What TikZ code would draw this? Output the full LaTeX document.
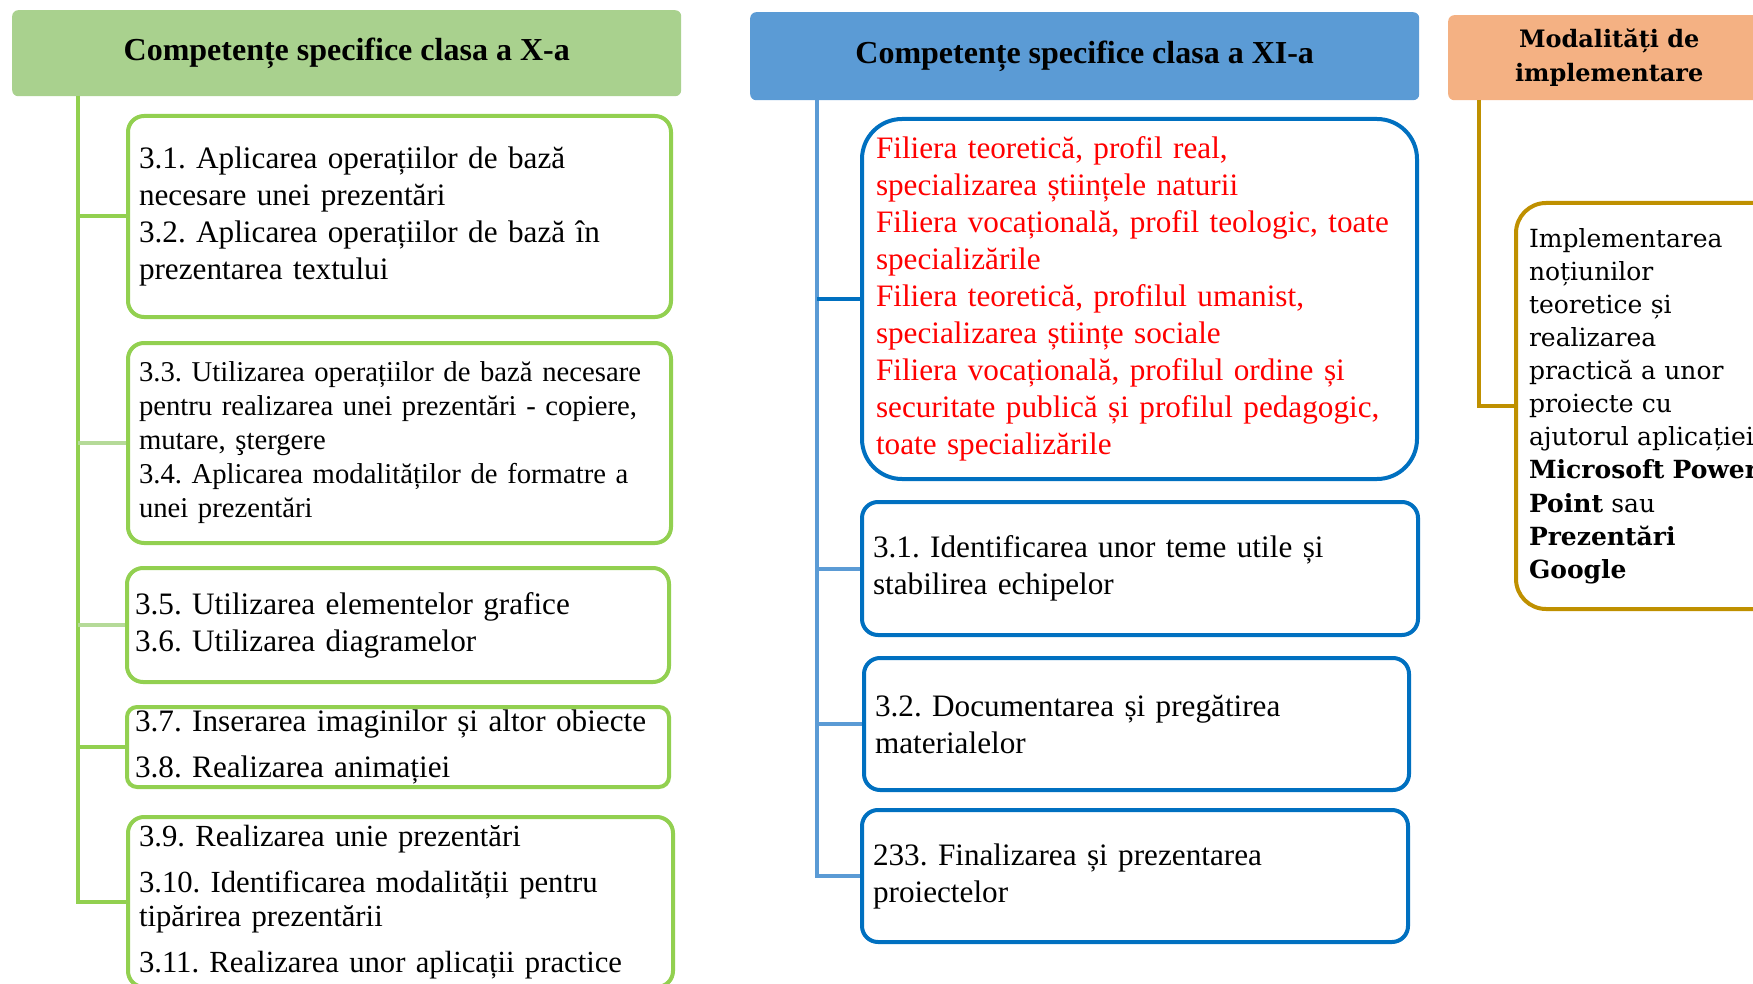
\documentclass[tikz,border=0pt]{standalone}
\usepackage{fontspec}
\setmainfont{Liberation Serif}
\newfontfamily\bookfont{DejaVu Serif}
\usepackage{xcolor}
\usepackage{tikz}
\usetikzlibrary{positioning}
\definecolor{grhead}{HTML}{A9D18E}
\definecolor{grline}{HTML}{92D050}
\definecolor{grpale}{HTML}{B5DA98}
\definecolor{blhead}{HTML}{5B9BD5}
\definecolor{blline}{HTML}{0070C0}
\definecolor{orhead}{HTML}{F4B183}
\definecolor{orline}{HTML}{BF9000}
\frenchspacing

\begin{document}
\begin{tikzpicture}[x=1pt, y=-1pt,
  head/.style={rounded corners=6pt, anchor=north west, align=center,
               inner sep=0pt, font=\fontsize{32}{37}\selectfont\bfseries},
  cbox/.style={draw, line width=4pt, anchor=north west, align=left,
               inner xsep=11pt, inner ysep=0pt, font=\fontsize{31.2}{37}\selectfont},
  gbox/.style={cbox, draw=grline, rounded corners=16pt},
  bbox/.style={cbox, draw=blline, rounded corners=16pt},
  trunk/.style={line width=4pt},
]
\useasboundingbox (0,0) rectangle (1753,984);

\node[head, fill=grhead, minimum width=669, minimum height=86] (gh) at (12,10)
  {Competențe specifice clasa a X-a};
\node[head, fill=blhead, minimum width=669, minimum height=88] (bh) at (750,12)
  {Competențe specifice clasa a XI-a};
\node[head, fill=orhead, minimum width=322, minimum height=85,
      font=\bookfont\bfseries\fontsize{24}{34}\selectfont] (oh) at (1448,15)
  {Modalități de\\implementare};

\node[gbox, minimum width=543, minimum height=201, text width=521] (g1) at (126,114)
  {3.1. Aplicarea operațiilor de bază\\necesare unei prezentări\\
   3.2. Aplicarea operațiilor de bază în\\prezentarea textului};
\node[gbox, minimum width=543, minimum height=200, text width=521,
      font=\fontsize{28.7}{34}\selectfont] (g2) at (126,341)
  {3.3. Utilizarea operațiilor de bază necesare\\pentru realizarea unei prezentări - copiere,\\
   mutare, ştergere\\3.4. Aplicarea modalităților de formatre a\\unei prezentări};
\node[gbox, minimum width=542, minimum height=114, text width=526, inner xsep=8pt] (g3) at (125,566)
  {3.5. Utilizarea elementelor grafice\\3.6. Utilizarea diagramelor};
\node[gbox, minimum width=542, minimum height=80, text width=526, inner xsep=8pt,
      rounded corners=10pt] (g4) at (125,705)
  {3.7. Inserarea imaginilor și altor obiecte\\[9pt]3.8. Realizarea animației};
\node[gbox, minimum width=545, minimum height=170, text width=523,
      font=\fontsize{30.7}{34}\selectfont] (g5) at (126,815)
  {3.9. Realizarea unie prezentări\\[12pt]3.10. Identificarea modalității pentru\\
   tipărirea prezentării\\[12pt]3.11. Realizarea unor aplicații practice};

\node[bbox, rounded corners=40pt, minimum width=555, minimum height=360, text width=527,
      inner xsep=14pt, text=red] (b0) at (860,117)
  {Filiera teoretică, profil real,\\specializarea științele naturii\\
   Filiera vocațională, profil teologic, toate\\specializările\\
   Filiera teoretică, profilul umanist,\\specializarea științe sociale\\
   Filiera vocațională, profilul ordine și\\securitate publică și profilul pedagogic,\\
   toate specializările};
\node[bbox, minimum width=554, minimum height=133, text width=534] (b1) at (860,500)
  {3.1. Identificarea unor teme utile și\\stabilirea echipelor};
\node[bbox, minimum width=543, minimum height=132, text width=523] (b2) at (862,656)
  {3.2. Documentarea și pregătirea\\materialelor};
\node[bbox, minimum width=544, minimum height=132, text width=524] (b3) at (860,808)
  {233. Finalizarea și prezentarea\\proiectelor};

\node[cbox, draw=orline, rounded corners=30pt, minimum width=330, minimum height=406,
      text width=304, inner xsep=13pt, font=\bookfont\fontsize{25}{33.1}\selectfont] (o1) at (1514,201)
  {Implementarea\\noțiunilor\\teoretice și\\realizarea\\practică a unor\\proiecte cu\\
   ajutorul aplicației\\\textbf{Microsoft Power}\\\textbf{Point} sau\\\textbf{Prezentări}\\
   \textbf{Google}};

\coordinate (gt) at (78,96);
\coordinate (bt) at (817,100);
\coordinate (ot) at (1479,100);

\draw[trunk, grline] (gt) |- (g5.west);
\draw[trunk, grline] (gt |- g1.west) -- (g1.west);
\draw[trunk, grpale] (gt |- g2.west) -- (g2.west);
\draw[trunk, grpale] (gt |- g3.west) -- (g3.west);
\draw[trunk, grline] (gt |- g4.west) -- (g4.west);

\draw[trunk, blhead] (bt) |- (b3.west);
\draw[trunk, blline] (bt |- b0.west) -- (b0.west);
\draw[trunk, blhead] (bt |- b1.west) -- (b1.west);
\draw[trunk, blhead] (bt |- b2.west) -- (b2.west);

\draw[trunk, orline] (ot) |- (o1.west);
\end{tikzpicture}
\end{document}
